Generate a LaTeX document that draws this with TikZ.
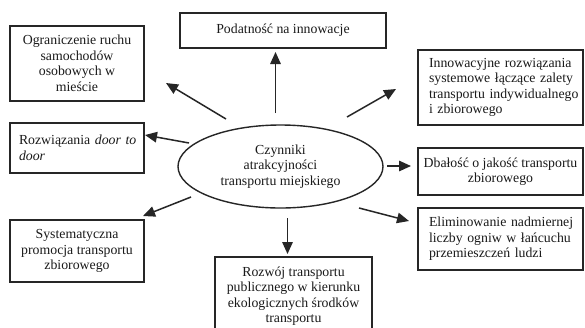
\documentclass[tikz,border=0pt]{standalone}
\usepackage{fontspec}
\setmainfont{Liberation Serif}
\usetikzlibrary{arrows.meta,shapes.geometric}
\definecolor{linec}{HTML}{262626}
\definecolor{textc}{HTML}{1A1A1A}
\begin{document}
\begin{tikzpicture}[x=1pt,y=-1pt,
  box/.style={draw=linec, line width=1.4pt, rectangle, inner sep=0pt, text=textc,
    font=\fontsize{13.8}{15.5}\selectfont},
  cbox/.style={box, align=center},
  lbox/.style={box, align=left},
  ell/.style={draw=linec, line width=1.4pt, ellipse, inner sep=0pt, text=textc, align=center,
    font=\fontsize{13.8}{15.5}\selectfont},
  arr/.style={draw=linec, line width=1.5pt, -{Triangle[length=12pt,width=10.5pt]}}]
\useasboundingbox (0,0) rectangle (585,327);
\clip (0,0) rectangle (585,327);
\fill[white] (0,0) rectangle (585,327);

\node[cbox, minimum width=134, minimum height=75] (ogr) at (77,63.5)
  {Ograniczenie ruchu\\samochodów\\osobowych w\\mieście};
\node[lbox, minimum width=134, minimum height=50, text width=116] (roz) at (77,148)
  {\mbox{Rozwiązania \textit{door to}}\\\textit{door}};
\node[cbox, minimum width=134, minimum height=62] (sys) at (77,251)
  {Systematyczna\\promocja transportu\\zbiorowego};
\node[cbox, minimum width=206, minimum height=35] (pod) at (283,30.5)
  {Podatność na innowacje};
\node[lbox, minimum width=165, minimum height=75, text width=143] (inn) at (500.5,87.5)
  {\mbox{Innowacyjne rozwiązania}\\\mbox{systemowe łączące zalety}\\\mbox{transportu indywidualnego}\\i zbiorowego};
\node[cbox, minimum width=165, minimum height=47] (dba) at (500.5,171.5)
  {Dbałość o jakość transportu\\zbiorowego};
\node[lbox, minimum width=165, minimum height=62, text width=143] (eli) at (500.5,239)
  {\mbox{Eliminowanie nadmiernej}\\\mbox{liczby ogniw w łańcuchu}\\\mbox{przemieszczeń ludzi}};
\node[cbox, minimum width=157, minimum height=78] (rw) at (293.5,296)
  {Rozwój transportu\\publicznego w kierunku\\ekologicznych środków\\transportu};
\node[ell, minimum width=205, minimum height=83] (c) at (280.5,166.5)
  {Czynniki\\atrakcyjności\\transportu miejskiego};

\coordinate (s1) at (275.5,113); \coordinate (e1) at (275.5,52);
\coordinate (s2) at (226,119);   \coordinate (e2) at (166,83);
\coordinate (s3) at (189,143);   \coordinate (e3) at (145,135);
\coordinate (s4) at (191,197);   \coordinate (e4) at (143,216);
\coordinate (s5) at (287.5,218); \coordinate (e5) at (287.5,254);
\coordinate (s6) at (359,208);   \coordinate (e6) at (409,221);
\coordinate (s7) at (387,166);   \coordinate (e7) at (411,166);
\coordinate (s8) at (347,117);   \coordinate (e8) at (396,89);

\draw[arr] (s1) -- (e1);
\draw[arr] (s2) -- (e2);
\draw[arr] (s3) -- (e3);
\draw[arr] (s4) -- (e4);
\draw[arr] (s5) -- (e5);
\draw[arr] (s6) -- (e6);
\draw[arr] (s7) -- (e7);
\draw[arr] (s8) -- (e8);
\end{tikzpicture}
\end{document}
